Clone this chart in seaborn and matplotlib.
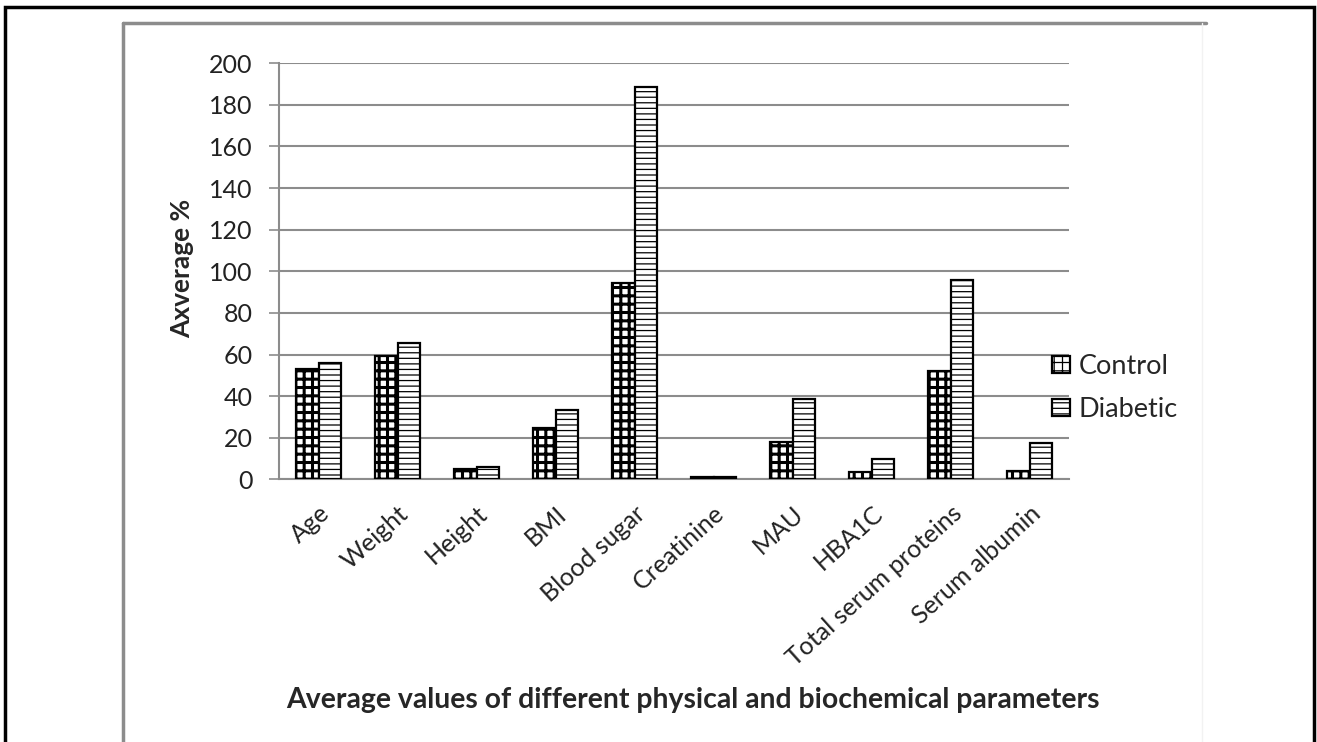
import pandas as pd
import matplotlib.pyplot as plt
import seaborn as sns
from matplotlib.patches import Rectangle
from matplotlib.lines import Line2D

categories = ['Age', 'Weight', 'Height', 'BMI', 'Blood sugar', 'Creatinine',
              'MAU', 'HBA1C', 'Total serum proteins', 'Serum albumin']
control = [53, 59.3, 4.8, 24.8, 94.2, 0.9, 18.1, 3.7, 52, 4.1]
diabetic = [56.1, 65.7, 5.8, 33.3, 188.8, 1.1, 38.6, 9.8, 95.8, 17.3]
groups = ['Control', 'Diabetic']
yticks = [0, 20, 40, 60, 80, 100, 120, 140, 160, 180, 200]

df = pd.DataFrame({
    'Parameter': categories * 2,
    'Value': control + diabetic,
    'Group': ['Control'] * len(categories) + ['Diabetic'] * len(categories),
})

sns.set_style('white')
plt.rcParams['font.family'] = ['Lato', 'DejaVu Sans']
plt.rcParams['hatch.linewidth'] = 0.9

fig = plt.figure(figsize=(13.17, 7.42), dpi=100)
ax = fig.add_axes([279 / 1317, 1 - 479.3 / 742, (1069 - 279) / 1317, (479.3 - 63.3) / 742])

sns.barplot(data=df, x='Parameter', y='Value', hue='Group', order=categories,
            hue_order=groups, palette=['white', 'white'], width=0.57,
            edgecolor='black', linewidth=1.6, ax=ax, legend=False, zorder=3)

hatches = ['++', '---']
for cont, h in zip(ax.containers, hatches):
    for bar in cont:
        bar.set_hatch(h)
        if h == '++':
            try:
                bar.set_hatch_linewidth(2.2)
            except AttributeError:
                pass

ax.set_ylim(0, 200)
ax.set_xlim(-0.5, len(categories) - 0.5)
ax.set_yticks(yticks)
ax.set_yticklabels([str(t) for t in yticks], fontsize=18, color='#222222')
ax.yaxis.grid(True, color='#8c8c8c', linewidth=1.5, zorder=0)
ax.set_axisbelow(True)

ax.set_xticks(range(len(categories)))
ax.set_xticklabels(categories, rotation=42, ha='right', rotation_mode='anchor',
                   fontsize=18, color='#222222')
ax.set_xticks([i - 0.5 for i in range(len(categories) + 1)], minor=True)
ax.tick_params(axis='x', which='major', length=0, pad=16)
ax.tick_params(axis='x', which='minor', length=7, width=1.2, color='#8c8c8c', direction='out')
ax.tick_params(axis='y', length=7, width=1.2, color='#8c8c8c', direction='out', left=True, pad=12)

for s in ['top', 'right']:
    ax.spines[s].set_visible(False)
for s in ['left', 'bottom']:
    ax.spines[s].set_color('#8c8c8c')
    ax.spines[s].set_linewidth(1.5)

ax.set_xlabel('')
ax.set_ylabel('')
fig.text(182 / 1317, 1 - 268 / 742, 'Axverage %', rotation=90, ha='center', va='center',
         fontsize=19, fontweight='bold')
fig.text(693 / 1317, 1 - 700 / 742,
         'Average values of different physical and biochemical parameters',
         ha='center', va='center', fontsize=20.4, fontweight='bold')

handles = [Rectangle((0, 0), 1, 1, facecolor='white', edgecolor='black', hatch=h, linewidth=1.6)
           for h in hatches]
leg = fig.legend(handles, groups, loc='center left', bbox_to_anchor=(1052 / 1317, 1 - 388 / 742),
                 frameon=False, fontsize=19.5, handlelength=0.68, handleheight=0.6,
                 handletextpad=0.3, labelspacing=0.68, borderaxespad=0, borderpad=0)

# outer frame and inner chart border
fig.add_artist(Rectangle((5 / 1317, -0.05), (1314 - 5) / 1317, 1.05 - 7 / 742,
                         transform=fig.transFigure, fill=False, edgecolor='black', linewidth=2.5))
fig.add_artist(Line2D([123.5 / 1317, 123.5 / 1317], [-0.05, 1 - 23 / 742], transform=fig.transFigure,
                      color='#8c8c8c', linewidth=2.5))
fig.add_artist(Line2D([123 / 1317, 1206 / 1317], [1 - 23 / 742, 1 - 23 / 742], transform=fig.transFigure,
                      color='#8c8c8c', linewidth=2.5))
fig.add_artist(Line2D([1202 / 1317, 1202 / 1317], [-0.05, 1 - 23 / 742], transform=fig.transFigure,
                      color='#f2f2f2', linewidth=1))

plt.savefig('out.png', dpi=100)
